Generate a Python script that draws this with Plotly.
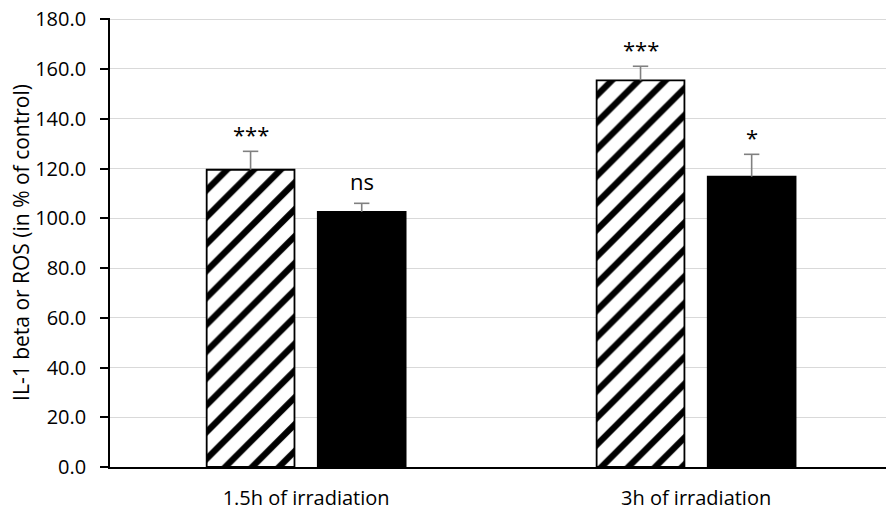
import plotly.graph_objects as go

# ---- data ----
categories = ["1.5h of irradiation", "3h of irradiation"]
hatched_values = [119.5, 155.4]
hatched_errors = [7.4, 5.7]
solid_values = [102.6, 116.7]
solid_errors = [3.4, 9.0]
hatched_labels = ["***", "***"]
solid_labels = ["ns", "*"]
y_ticks = [0, 20, 40, 60, 80, 100, 120, 140, 160, 180]

FONT = "Open Sans, Lato, Liberation Sans, sans-serif"
BARGAP = 0.43
BARGROUPGAP = 0.21
ERR_COLOR = "#808080"

slot = (1 - BARGAP) / 2
xs = list(range(len(categories)))
x_hatched = [i - slot / 2 for i in xs]
x_solid = [i + slot / 2 for i in xs]

fig = go.Figure()
fig.add_trace(go.Bar(
    x=xs, y=hatched_values, name="hatched",
    marker=dict(color="white", line=dict(color="black", width=1.8),
                pattern=dict(shape="/", fgcolor="black", bgcolor="white",
                             size=19, solidity=0.33, fillmode="replace")),
    error_y=dict(type="data", array=hatched_errors, arrayminus=[0] * len(hatched_errors),
                 symmetric=False, color=ERR_COLOR, thickness=1.6, width=0),
))
fig.add_trace(go.Bar(
    x=xs, y=solid_values, name="solid",
    marker=dict(color="black", line=dict(color="black", width=1.8)),
    error_y=dict(type="data", array=solid_errors, arrayminus=[0] * len(solid_errors),
                 symmetric=False, color=ERR_COLOR, thickness=1.6, width=0),
))
# error-bar caps (top only)
fig.add_trace(go.Scatter(
    x=x_hatched + x_solid,
    y=[v + e for v, e in zip(hatched_values, hatched_errors)] +
      [v + e for v, e in zip(solid_values, solid_errors)],
    mode="markers", hoverinfo="skip",
    marker=dict(symbol="line-ew", size=11, line=dict(color=ERR_COLOR, width=1.6)),
))

# significance labels above error bars
annotations = []
for xpos, vals, errs, labs in ((x_hatched, hatched_values, hatched_errors, hatched_labels),
                               (x_solid, solid_values, solid_errors, solid_labels)):
    for i in xs:
        lab = labs[i]
        annotations.append(dict(
            x=xpos[i], y=vals[i] + errs[i], xref="x", yref="y", text=lab,
            showarrow=False, yanchor="middle", xanchor="center",
            yshift=17 if "*" in lab else 22,
            font=dict(family=FONT, size=22, color="black"),
        ))

fig.update_layout(
    width=886, height=516,
    margin=dict(l=110, r=0, t=18, b=49, autoexpand=False),
    paper_bgcolor="white", plot_bgcolor="white",
    barmode="group", bargap=BARGAP, bargroupgap=BARGROUPGAP,
    showlegend=False,
    font=dict(family=FONT, size=20, color="black"),
    annotations=annotations,
)
fig.update_xaxes(
    tickmode="array", tickvals=xs, ticktext=categories,
    range=[-0.503, 1.487], showgrid=False, zeroline=False, automargin=False,
    showline=True, linecolor="black", linewidth=1.6, ticks="",
    ticklabelstandoff=12, ticklabeloverflow="allow",
    tickfont=dict(family=FONT, size=20, color="black"),
)
fig.update_yaxes(
    range=[0, 180.5], tickmode="array", tickvals=y_ticks,
    ticktext=[f"{v:.1f}" for v in y_ticks], automargin=False,
    showgrid=True, gridcolor="#d9d9d9", gridwidth=1.3, zeroline=False,
    showline=True, linecolor="black", linewidth=1.6,
    ticks="outside", ticklen=8, tickwidth=1.6, tickcolor="black",
    ticklabelstandoff=10, ticklabeloverflow="allow",
    tickfont=dict(family=FONT, size=20, color="black"),
    title=dict(text="IL-1 beta or ROS (in % of control)", standoff=0,
               font=dict(family=FONT, size=21, color="black")),
)

fig.write_html(
    "out.html",
    config={"displayModeBar": False},
    post_script="document.body.style.margin='0px';document.body.style.overflow='hidden';",
)
